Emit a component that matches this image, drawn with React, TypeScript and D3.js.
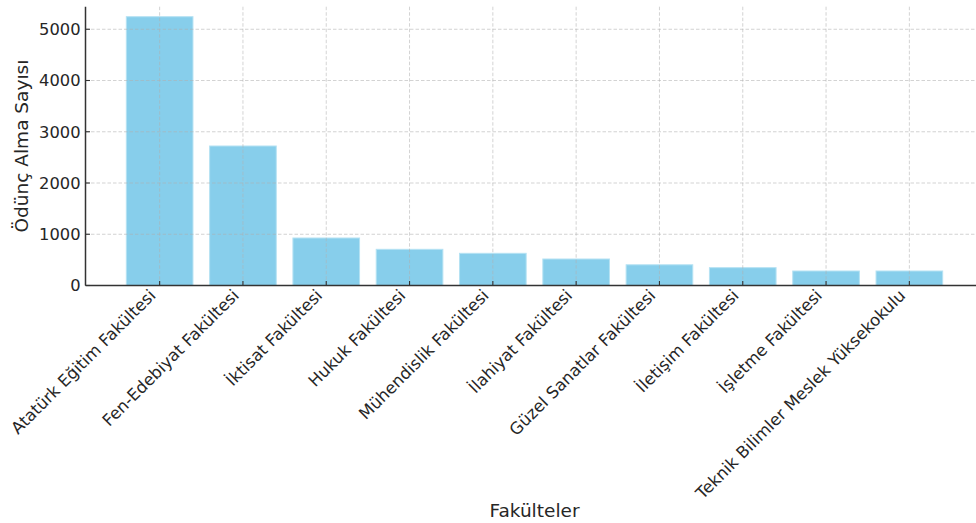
import React from "react";
import * as d3 from "d3";

const categories = [
  "Atatürk Eğitim Fakültesi",
  "Fen-Edebiyat Fakültesi",
  "İktisat Fakültesi",
  "Hukuk Fakültesi",
  "Mühendislik Fakültesi",
  "İlahiyat Fakültesi",
  "Güzel Sanatlar Fakültesi",
  "İletişim Fakültesi",
  "İşletme Fakültesi",
  "Teknik Bilimler Meslek Yüksekokulu",
];
const loans = [5245, 2722, 927, 706, 628, 517, 404, 348, 283, 283];
const yTicks = [0, 1000, 2000, 3000, 4000, 5000];

const W = 976;
const H = 523;
const left = 85.5;
const right = 983.5;
const top = 6.7;
const bottom = 285.5;
const FONT = "DejaVu Sans, sans-serif";
const TEXT = "#262626";

export default function App() {
  const x = d3.scaleLinear().domain([-0.89, categories.length - 1 + 0.89]).range([left, right]);
  const y = d3.scaleLinear().domain([0, 5440]).range([bottom, top]);
  const bw = x(0.4) - x(-0.4);
  return (
    <svg width={W} height={H} style={{ position: "absolute", left: 0, top: 0, background: "#fff" }}>
      {loans.map((v, i) => (
        <rect
          key={i}
          x={x(i) - bw / 2}
          y={y(v)}
          width={bw}
          height={y(0) - y(v)}
          fill="#87CEEB"
          stroke="#b5e2f3"
          strokeWidth={1}
        />
      ))}
      {yTicks.map((t) => (
        <line key={"gy" + t} x1={left} x2={W} y1={y(t)} y2={y(t)} stroke="#b0b0b0" strokeOpacity={0.7} strokeWidth={0.8} strokeDasharray="3.5,2" />
      ))}
      {categories.map((c, i) => (
        <line key={"gx" + i} x1={x(i)} x2={x(i)} y1={top} y2={bottom} stroke="#b0b0b0" strokeOpacity={0.7} strokeWidth={0.8} strokeDasharray="3.5,2" />
      ))}
      {yTicks.map((t) => (
        <line key={"ty" + t} x1={left} x2={left + 4.5} y1={y(t)} y2={y(t)} stroke="#333" strokeWidth={1.1} />
      ))}
      {categories.map((c, i) => (
        <line key={"tx" + i} x1={x(i)} x2={x(i)} y1={bottom} y2={bottom - 4.5} stroke="#333" strokeWidth={1.1} />
      ))}
      <line x1={left} x2={left} y1={top} y2={bottom} stroke="#333" strokeWidth={1.5} />
      <line x1={left} x2={W} y1={bottom} y2={bottom} stroke="#333" strokeWidth={1.5} />
      {yTicks.map((t) => (
        <text key={"ly" + t} x={left - 5} y={y(t)} dy="0.36em" textAnchor="end" fontFamily={FONT} fontSize={16.3} fill={TEXT}>
          {t}
        </text>
      ))}
      {categories.map((c, i) => (
        <text
          key={"lx" + i}
          transform={`translate(${x(i) - 3},${bottom + 11}) rotate(-45)`}
          textAnchor="end"
          fontFamily={FONT}
          fontSize={16.5}
          fill={TEXT}
        >
          {c}
        </text>
      ))}
      <text x={(left + right) / 2} y={517} textAnchor="middle" fontFamily={FONT} fontSize={18.5} fill={TEXT}>
        Fakülteler
      </text>
      <text transform={`translate(28,${(top + bottom) / 2}) rotate(-90)`} textAnchor="middle" fontFamily={FONT} fontSize={18.5} fill={TEXT}>
        Ödünç Alma Sayısı
      </text>
    </svg>
  );
}
